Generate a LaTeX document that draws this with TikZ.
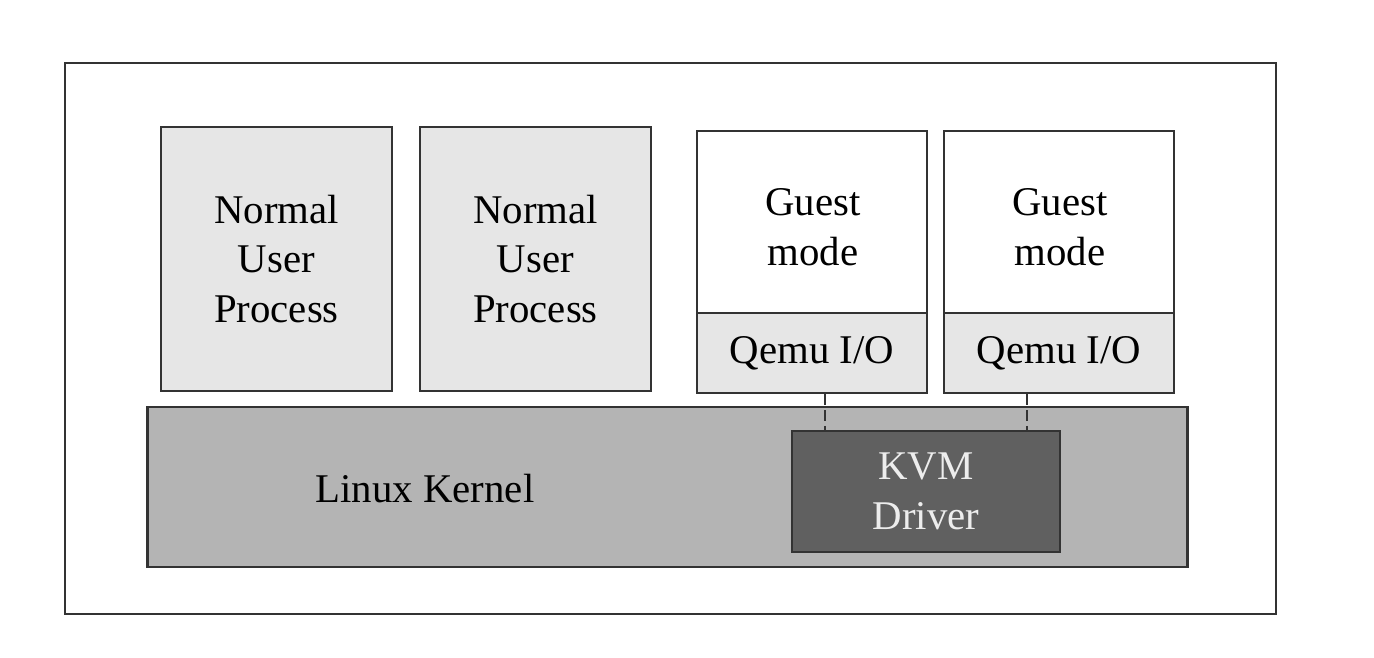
\documentclass[tikz,border=0pt]{standalone}
\usepackage{fontspec}
\setmainfont{Liberation Serif}
\definecolor{lightbox}{HTML}{E6E6E6}
\definecolor{kernelgray}{HTML}{B4B4B4}
\definecolor{kvmgray}{HTML}{606060}
\definecolor{edge}{HTML}{333333}
\begin{document}
\begin{tikzpicture}[x=0.01cm,y=0.01cm,
  txt/.style={font=\fontsize{11.6}{14.2}\selectfont},
  box/.style={draw=edge,line width=0.7pt,rectangle,inner sep=0pt,align=center,txt},
  proc/.style={box,fill=lightbox,minimum width=2.31cm,minimum height=2.64cm},
  guest/.style={box,fill=white,minimum width=2.30cm,minimum height=1.82cm},
  qemu/.style={box,fill=lightbox,minimum width=2.30cm,minimum height=0.80cm},
  lbl/.style={inner sep=0pt,align=center,txt},
  link/.style={draw=edge,line width=0.7pt,dash pattern=on 3pt off 1.5pt}]
\useasboundingbox (0,0) rectangle (1374,-657);
\draw[draw=edge,line width=0.7pt] (65,-63) rectangle (1276,-614);
\node[proc] (n1) at (276.5,-259) {Normal\\User\\Process};
\node[proc] (n2) at (535.5,-259) {Normal\\User\\Process};
\node[guest] (g1) at (812,-222) {};
\node[lbl] (g1t) at (813,-227) {Guest\\mode};
\node[qemu] (q1) at (812,-353) {Qemu I/O};
\node[guest] (g2) at (1059,-222) {};
\node[lbl] (g2t) at (1060,-227) {Guest\\mode};
\node[qemu] (q2) at (1059,-353) {Qemu I/O};
\node[box,fill=kernelgray,minimum width=10.39cm,minimum height=1.60cm] (kern) at (667.5,-487) {};
\node[lbl] (kl) at (425,-489) {Linux Kernel};
\node[box,fill=kvmgray,text=white!93!black,minimum width=2.68cm,minimum height=1.21cm] (kvm) at (926,-491.5) {KVM\\Driver};
\draw[link] ([xshift=0.13cm]q1.south) -- ([xshift=0.13cm]q1.south |- kvm.north);
\draw[link] ([xshift=-0.32cm]q2.south) -- ([xshift=-0.32cm]q2.south |- kvm.north);
\end{tikzpicture}
\end{document}
